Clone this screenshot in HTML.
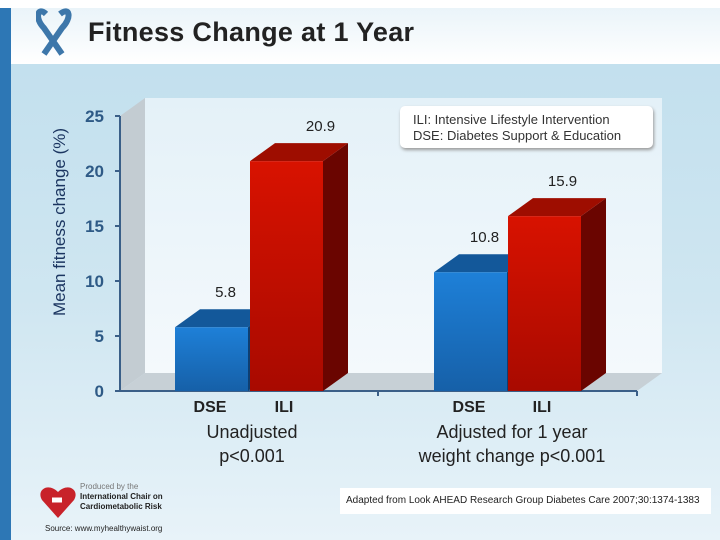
<!DOCTYPE html>
<html><head><meta charset="utf-8"><style>
body{margin:0;width:720px;height:540px;overflow:hidden;font-family:"Liberation Sans",sans-serif;position:relative;background:linear-gradient(#c3e0ee 70px,#cfe6f1 300px,#e8f3f9 540px)}
.a{position:absolute}
</style></head><body>
<div class="a" style="left:0;top:0;width:720px;height:8px;background:#fff"></div>
<div class="a" style="left:0;top:8px;width:11px;height:532px;background:#2d77b5"></div>
<div class="a" style="left:11px;top:8px;width:709px;height:56px;background:linear-gradient(#eaf4f9,#fff)"></div>
<svg class="a" style="left:36px;top:6px" width="36" height="52"><path d="M10 8 C2 0,-2 12,8 22 L26 48 M24 8 C34 0,36 12,26 22 L8 48" stroke="#3d77aa" stroke-width="6" fill="none"/></svg>
<div class="a" style="left:88px;top:17px;font-size:27px;font-weight:bold;color:#222;letter-spacing:0.3px">Fitness Change at 1 Year</div>
<div class="a" style="left:60px;top:222px;transform:translate(-50%,-50%) rotate(-90deg);font-size:17px;color:#1b3560;white-space:nowrap">Mean fitness change (%)</div>
<svg class="a" id="ch" style="left:0;top:0" width="720" height="540"></svg>
<div class="a" style="left:400px;top:106px;width:253px;height:42px;background:#fff;border-radius:5px;box-shadow:1px 2px 3px #999;font-size:13px;color:#333;padding:6px 0 0 13px;box-sizing:border-box;line-height:16px">ILI: Intensive Lifestyle Intervention<br>DSE: Diabetes Support &amp; Education</div>
<div class="a" style="left:252px;top:420px;transform:translateX(-50%);text-align:center;font-size:18px;color:#222;white-space:nowrap;line-height:24px">Unadjusted<br>p&lt;0.001</div>
<div class="a" style="left:512px;top:420px;transform:translateX(-50%);text-align:center;font-size:18px;color:#222;white-space:nowrap;line-height:24px">Adjusted for 1 year<br>weight change p&lt;0.001</div>
<div class="a" style="left:340px;top:488px;width:365px;height:26px;background:#fff;font-size:10px;color:#222;line-height:26px;padding-left:6px">Adapted from Look AHEAD Research Group Diabetes Care 2007;30:1374-1383</div>
<svg class="a" style="left:38px;top:484px" width="40" height="36"><path d="M20 34 L4 16 C-2 6,10 -2,20 8 C30 -2,42 6,36 16 Z" fill="#c8222a"/><path d="M14 16 L24 16" stroke="#fff" stroke-width="5"/></svg>
<div class="a" style="left:80px;top:482px;font-size:8px;color:#222;line-height:10px"><span style="color:#777">Produced by the</span><br><b>International Chair on<br>Cardiometabolic Risk</b></div>
<div class="a" style="left:45px;top:524px;font-size:8px;color:#222">Source: www.myhealthywaist.org</div>
<script>
const categories=["DSE","ILI","DSE","ILI"];
const values=[5.8,20.9,10.8,15.9];
const labels=["5.8","20.9","10.8","15.9"];
const ticks=[0,5,10,15,20,25];
const NS="http://www.w3.org/2000/svg",svg=document.getElementById('ch');
const y0=391,k=11,dx=25,dy=18;
const y=v=>y0-v*k;
const xs=[175,250,434,508],bw=73;
const lblOff=[14,34,14,18];
function el(t,a){const e=document.createElementNS(NS,t);for(const n in a)e.setAttribute(n,a[n]);svg.appendChild(e);return e}
const defs=el('defs',{});
defs.innerHTML='<linearGradient id="gb" x1="0" y1="0" x2="0" y2="1"><stop offset="0" stop-color="#1e80d8"/><stop offset="1" stop-color="#1660a8"/></linearGradient><linearGradient id="gr" x1="0" y1="0" x2="0" y2="1"><stop offset="0" stop-color="#d81200"/><stop offset="1" stop-color="#a80a00"/></linearGradient><linearGradient id="wall" x1="0" y1="0" x2="0" y2="1"><stop offset="0" stop-color="#e4f1f8"/><stop offset="1" stop-color="#f4f9fc"/></linearGradient>';
let w=el('path',{d:`M145 ${y(25)-dy} L662 ${y(25)-dy} L662 ${y0-dy} L145 ${y0-dy} Z`,fill:'url(#wall)'});

w=el('path',{d:`M120 ${y(25)} L145 ${y(25)-dy} L145 ${y0-dy} L120 ${y0} Z`,fill:'#c3ccd2'});

w=el('path',{d:`M120 ${y0} L145 ${y0-dy} L662 ${y0-dy} L637 ${y0} Z`,fill:'#c7d0d6'});

let ax=el('line',{x1:120,y1:y(25),x2:120,y2:y0+1,stroke:'#3a5f88','stroke-width':2});

ax=el('line',{x1:118,y1:y0,x2:637,y2:y0,stroke:'#3a5f88','stroke-width':2});

[378,637].forEach(x=>{const t=el('line',{x1:x,y1:y0,x2:x,y2:y0+5,stroke:'#3a5f88','stroke-width':2});});
ticks.forEach(v=>{
 const t=el('line',{x1:115,y1:y(v),x2:120,y2:y(v),stroke:'#3a5f88','stroke-width':2});
 
 const s=el('text',{x:104,y:y(v)+6,'text-anchor':'end','font-size':17,'font-weight':'bold',fill:'#2e5a86','font-family':'Liberation Sans'});
 s.textContent=v;
});
values.forEach((v,i)=>{
 const ili=categories[i]==="ILI",x=xs[i],t=y(v);
 const g=el('g',{});
 const mk=(d,f)=>{const p=document.createElementNS(NS,'path');p.setAttribute('d',d);p.setAttribute('fill',f);g.appendChild(p);};
 mk(`M${x+bw} ${t} L${x+bw+dx} ${t-dy} L${x+bw+dx} ${y0-dy} L${x+bw} ${y0} Z`,ili?'#6a0500':'#0e3f72');
 mk(`M${x} ${t} L${x+dx} ${t-dy} L${x+bw+dx} ${t-dy} L${x+bw} ${t} Z`,ili?'#9e0d00':'#13589a');
 mk(`M${x} ${t} H${x+bw} V${y0} H${x} Z`,ili?'url(#gr)':'url(#gb)');
 const s=el('text',{x:x+bw/2+lblOff[i],y:t-dy-12,'text-anchor':'middle','font-size':15,fill:'#222','font-family':'Liberation Sans'});
 s.textContent=labels[i];
 const c=el('text',{x:ili?x+34:x+35,y:412,'text-anchor':'middle','font-size':16,'font-weight':'bold',fill:'#222','font-family':'Liberation Sans'});
 c.textContent=categories[i];
});
</script>
</body></html>
